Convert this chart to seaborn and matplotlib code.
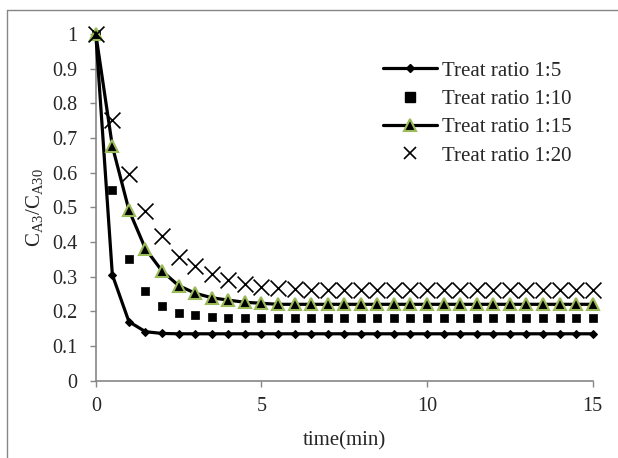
import numpy as np
import pandas as pd
from matplotlib import pyplot as plt
from matplotlib.lines import Line2D
import seaborn as sns

# time points (min)
time = [0, 0.5, 1, 1.5, 2, 2.5, 3, 3.5, 4, 4.5, 5, 5.5, 6, 6.5, 7, 7.5, 8, 8.5, 9, 9.5,
        10, 10.5, 11, 11.5, 12, 12.5, 13, 13.5, 14, 14.5, 15]

ratio_1_5 = [1, 0.305, 0.17, 0.141, 0.136] + [0.135] * 26
ratio_1_10 = [1, 0.55, 0.35, 0.257, 0.215, 0.194, 0.188, 0.184] + [0.181] * 23
ratio_1_15 = [1, 0.676, 0.492, 0.38, 0.316, 0.274, 0.252, 0.239, 0.232, 0.226, 0.223] + [0.22] * 20
ratio_1_20 = [1, 0.751, 0.596, 0.49, 0.417, 0.357, 0.33, 0.307, 0.29, 0.279, 0.271,
              0.266, 0.264] + [0.26] * 18

labels = ["Treat ratio 1:5", "Treat ratio 1:10", "Treat ratio 1:15", "Treat ratio 1:20"]

df = pd.DataFrame({"time": time, labels[0]: ratio_1_5, labels[1]: ratio_1_10,
                   labels[2]: ratio_1_15, labels[3]: ratio_1_20})

sns.set_style("white")
plt.rcParams["font.family"] = ["Liberation Serif", "DejaVu Serif"]
plt.rcParams["mathtext.fontset"] = "custom"
plt.rcParams["mathtext.rm"] = "Liberation Serif"
plt.rcParams["mathtext.it"] = "Liberation Serif"

fig = plt.figure(figsize=(6.18, 4.58), dpi=100)
ax = fig.add_axes([0.155, 0.169, 0.804, 0.757])

green = "#9BBB59"
grey = "#868686"

sns.lineplot(data=df, x="time", y=labels[0], ax=ax, color="black", lw=2.3,
             marker="D", markersize=4.5, markeredgecolor="black", zorder=3, clip_on=False)
sns.scatterplot(data=df, x="time", y=labels[1], ax=ax, color="black", marker="s",
                s=40, edgecolor="black", zorder=4, clip_on=False)
sns.lineplot(data=df, x="time", y=labels[2], ax=ax, color="black", lw=2.3,
             marker="^", markersize=8, markerfacecolor="black",
             markeredgecolor=green, markeredgewidth=1.5, zorder=5, clip_on=False)
sns.scatterplot(data=df, x="time", y=labels[3], ax=ax, color="black", marker="x",
                s=130, linewidth=1.2, zorder=6, clip_on=False)

ax.set_xlim(0, 15)
ax.set_ylim(0, 1)
ax.set_xticks([0, 5, 10, 15])
ax.set_yticks(np.arange(0, 1.01, 0.1))
ax.set_yticklabels(["0", "0.1", "0.2", "0.3", "0.4", "0.5", "0.6", "0.7", "0.8", "0.9", "1"])
ax.tick_params(axis="both", direction="out", length=4.5, width=1, color=grey,
               labelsize=14.5, left=True, bottom=True)
ax.tick_params(axis="y", pad=9)
ax.tick_params(axis="x", pad=7)
for side in ["top", "right"]:
    ax.spines[side].set_visible(False)
for side in ["left", "bottom"]:
    ax.spines[side].set_color(grey)
    ax.spines[side].set_linewidth(1.2)

ax.set_xlabel("time(min)", fontsize=15, labelpad=11)
ax.set_ylabel(r"C$_{\mathrm{A3}}$/C$_{\mathrm{A30}}$", fontsize=15, labelpad=5)

handles = [
    Line2D([], [], color="black", lw=2.3, marker="D", markersize=4.5),
    Line2D([], [], color="black", lw=0, marker="s", markersize=6.5),
    Line2D([], [], color="black", lw=2.3, marker="^", markersize=8,
           markerfacecolor="black", markeredgecolor=green, markeredgewidth=1.5),
    Line2D([], [], color="black", lw=0, marker="x", markersize=8, markeredgewidth=1.2),
]
ax.legend(handles, labels, loc="upper left", bbox_to_anchor=(0.561, 0.946),
          frameon=False, fontsize=15, handlelength=2.6, handletextpad=0.25,
          labelspacing=0.42, borderaxespad=0)

# chart area border
fig.add_artist(Line2D([7 / 618, 1], [1 - 10 / 458, 1 - 10 / 458], color=grey, lw=1))
fig.add_artist(Line2D([7 / 618, 7 / 618], [0, 1 - 10 / 458], color=grey, lw=1))

plt.savefig("out.png", dpi=100)
